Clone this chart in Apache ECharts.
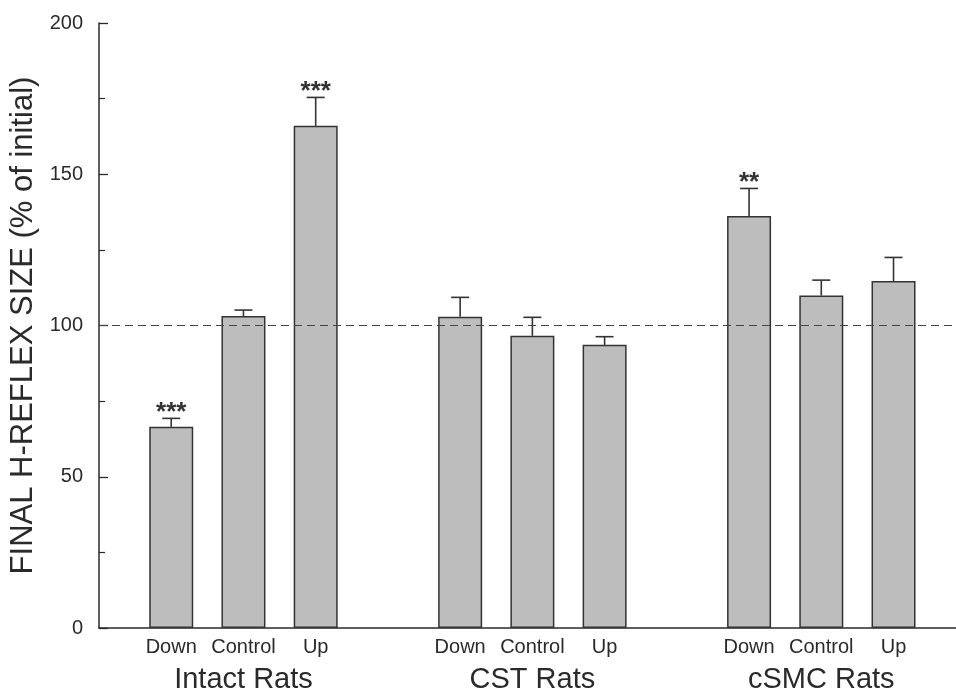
<html>
<head>
<meta charset="utf-8">
<script src="https://cdn.jsdelivr.net/npm/echarts@6/dist/echarts.min.js"></script>
<style>
  html, body { margin: 0; padding: 0; background: #fff; }
  #main { width: 956px; height: 690px; }
</style>
</head>
<body>
<div id="main"></div>
<script>
var groups = ['Intact Rats', 'CST Rats', 'cSMC Rats'];
var conditions = ['Down', 'Control', 'Up'];
// mean final H-reflex size, % of initial (group by group, Down/Control/Up)
var means = [66.5, 103.1, 166.0, 102.9, 96.6, 93.6, 136.2, 109.9, 114.7];
var sems = [2.8, 2.0, 9.4, 6.4, 6.1, 2.7, 9.1, 5.1, 7.8];
var stars = ['***', '', '***', '', '', '', '**', '', ''];
var yTicks = [0, 50, 100, 150, 200];

var font = "'Liberation Sans', Arial, Helvetica, sans-serif";
var ink = '#2a2a2a';

// slot on the x axis: three bars, then one empty slot between groups
function slot(i) {
    return Math.floor(i / 3) * 4 + (i % 3);
}

var barData = means.map(function (v, i) { return [slot(i), v]; });
var errData = means.map(function (v, i) { return [slot(i), v, v + sems[i], i]; });

var myChart = echarts.init(document.getElementById('main'));

var option = {
    animation: false,
    backgroundColor: '#fff',
    grid: { left: 99, right: 0, top: 23, bottom: 62, outerBoundsMode: 'none', containLabel: false },
    xAxis: [
        {
            type: 'value',
            min: -1,
            max: 10.865,
            interval: 1,
            splitLine: { show: false },
            axisTick: { show: false },
            axisLine: { onZero: false, lineStyle: { color: ink, width: 1.5 } },
            axisLabel: {
                showMaxLabel: false,
                showMinLabel: false,
                margin: 9,
                fontFamily: font,
                fontSize: 20,
                color: ink,
                formatter: function (v) {
                    var r = Math.round(v);
                    if (r < 0 || r % 4 === 3) return '';
                    return conditions[r % 4] || '';
                }
            }
        },
        {
            type: 'value',
            position: 'bottom',
            min: -1,
            max: 10.865,
            interval: 1,
            splitLine: { show: false },
            axisTick: { show: false },
            axisLine: { show: false, onZero: false },
            axisLabel: {
                showMaxLabel: false,
                showMinLabel: false,
                margin: 37,
                fontFamily: font,
                fontSize: 29,
                color: ink,
                formatter: function (v) {
                    var r = Math.round(v);
                    if (r % 4 !== 1) return '';
                    return groups[(r - 1) / 4] || '';
                }
            }
        }
    ],
    yAxis: {
        type: 'value',
        min: yTicks[0],
        max: yTicks[yTicks.length - 1],
        interval: 50,
        name: 'FINAL H-REFLEX SIZE (% of initial)',
        nameLocation: 'middle',
        nameGap: 54,
        nameTextStyle: { fontFamily: font, fontSize: 31, color: ink },
        splitLine: { show: false },
        axisLine: { onZero: false, lineStyle: { color: ink, width: 1.5 } },
        axisTick: { inside: true, length: 9, lineStyle: { color: ink, width: 1.3 } },
        minorTick: { show: true, splitNumber: 2, length: 6, lineStyle: { color: ink, width: 1.2 } },
        axisLabel: { margin: 16, fontFamily: font, fontSize: 20, color: ink }
    },
    series: [
        {
            type: 'bar',
            xAxisIndex: 0,
            barWidth: 44,
            data: barData,
            itemStyle: { color: '#bdbdbd', borderColor: '#333', borderWidth: 1.5 },
            markLine: {
                silent: true,
                symbol: 'none',
                label: { show: false },
                lineStyle: { color: '#444', type: [8, 5], width: 1.2 },
                data: [{ yAxis: 100 }]
            },
            z: 2
        },
        {
            type: 'custom',
            xAxisIndex: 0,
            data: errData,
            z: 3,
            renderItem: function (params, api) {
                var low = api.coord([api.value(0), api.value(1)]);
                var high = api.coord([api.value(0), api.value(2)]);
                var s = stars[api.value(3)];
                var children = [
                    {
                        type: 'line',
                        shape: { x1: low[0], y1: low[1], x2: high[0], y2: high[1] },
                        style: { stroke: '#333', lineWidth: 1.6 }
                    },
                    {
                        type: 'line',
                        shape: { x1: high[0] - 9, y1: high[1], x2: high[0] + 9, y2: high[1] },
                        style: { stroke: '#333', lineWidth: 1.6 }
                    }
                ];
                if (s) {
                    children.push({
                        type: 'text',
                        style: {
                            text: s,
                            x: high[0],
                            y: high[1] + 7,
                            align: 'center',
                            verticalAlign: 'bottom',
                            fontFamily: font,
                            fontSize: 26,
                            fontWeight: 'bold',
                            fill: '#333'
                        }
                    });
                }
                return { type: 'group', children: children };
            }
        }
    ]
};

myChart.setOption(option);
</script>
</body>
</html>
